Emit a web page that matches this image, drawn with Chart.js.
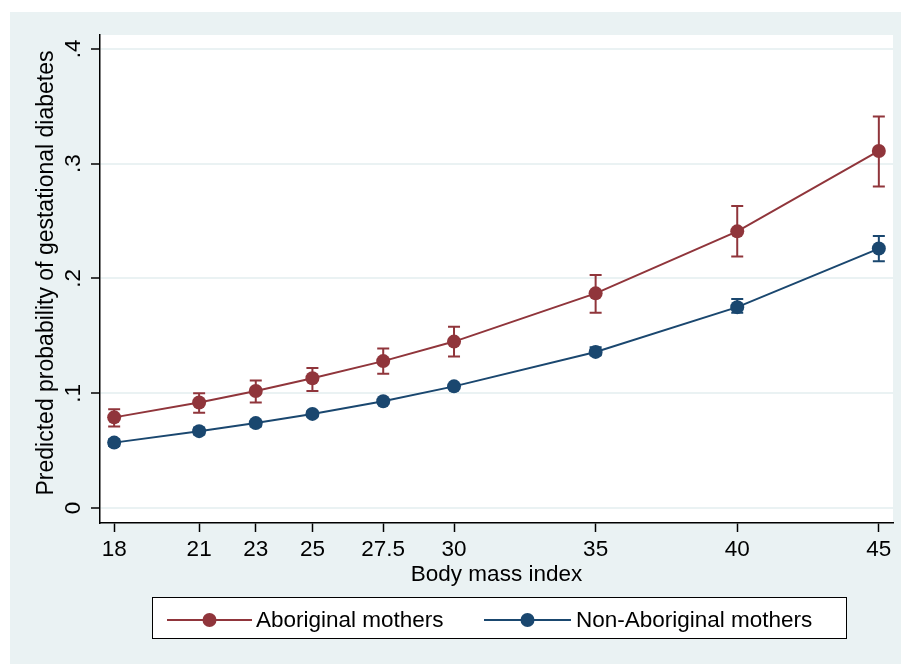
<!DOCTYPE html>
<html>
<head>
<meta charset="utf-8">
<script src="https://cdn.jsdelivr.net/npm/chart.js@4.4.1/dist/chart.umd.min.js"></script>
<style>
  html, body { margin: 0; padding: 0; background: #ffffff; }
  #wrap { width: 901px; height: 664px; position: relative; }
</style>
</head>
<body>
<div id="wrap"><canvas id="chart" width="901" height="664"></canvas></div>
<script>
// Body mass index values on the x axis
const bmi = [18, 21, 23, 25, 27.5, 30, 35, 40, 45];

// Predicted probabilities with confidence limits
const aboriginal     = [0.079, 0.092, 0.102, 0.113, 0.128, 0.145, 0.187, 0.241, 0.311];
const aboriginalLow  = [0.071, 0.083, 0.092, 0.102, 0.117, 0.132, 0.170, 0.219, 0.280];
const aboriginalHigh = [0.086, 0.100, 0.111, 0.122, 0.139, 0.158, 0.203, 0.263, 0.341];

const nonAboriginal     = [0.057, 0.067, 0.074, 0.082, 0.093, 0.106, 0.136, 0.175, 0.226];
const nonAboriginalLow  = [0.054, 0.064, 0.071, 0.080, 0.091, 0.104, 0.133, 0.170, 0.215];
const nonAboriginalHigh = [0.060, 0.070, 0.076, 0.084, 0.095, 0.108, 0.140, 0.182, 0.237];

// Tick labels
const yTicks = [0, 0.1, 0.2, 0.3, 0.4];
const yTickLabels = ['0', '.1', '.2', '.3', '.4'];
const seriesNames = ['Aboriginal mothers', 'Non-Aboriginal mothers'];

const red = '#90353B';
const navy = '#1A476F';
const bgColor = '#EAF2F3';
const fontFamily = '"Liberation Sans", Arial, sans-serif';
const fontSize = 22.5;

function toPoints(ys) {
  return bmi.map((x, i) => ({ x: x, y: ys[i] }));
}

// Background, plot region and error bars
const stataPlugin = {
  id: 'stata',
  beforeDraw(chart) {
    const ctx = chart.ctx;
    const a = chart.chartArea;
    ctx.save();
    ctx.fillStyle = bgColor;
    ctx.fillRect(10, 12, chart.width - 10, chart.height - 12);
    ctx.fillStyle = '#ffffff';
    ctx.fillRect(a.left, a.top, a.right - a.left, a.bottom - a.top);
    ctx.restore();
  },
  beforeDatasetsDraw(chart) {
    const ctx = chart.ctx;
    const xs = chart.scales.x;
    const ys = chart.scales.y;
    const bars = [
      { low: aboriginalLow, high: aboriginalHigh, color: red },
      { low: nonAboriginalLow, high: nonAboriginalHigh, color: navy }
    ];
    ctx.save();
    bars.forEach(b => {
      ctx.strokeStyle = b.color;
      ctx.lineWidth = 2;
      bmi.forEach((x, i) => {
        const px = xs.getPixelForValue(x);
        const y1 = ys.getPixelForValue(b.low[i]);
        const y2 = ys.getPixelForValue(b.high[i]);
        ctx.beginPath();
        ctx.moveTo(px, y1); ctx.lineTo(px, y2);
        ctx.moveTo(px - 6, y1); ctx.lineTo(px + 6, y1);
        ctx.moveTo(px - 6, y2); ctx.lineTo(px + 6, y2);
        ctx.stroke();
      });
    });
    ctx.restore();
  },
  afterDraw(chart) {
    const ctx = chart.ctx;
    const ys = chart.scales.y;
    const a = chart.chartArea;
    ctx.save();
    ctx.fillStyle = '#000000';
    ctx.font = fontSize + 'px ' + fontFamily;
    ctx.textAlign = 'center';
    ctx.textBaseline = 'middle';

    // rotated y tick labels
    yTicks.forEach((v, i) => {
      const py = ys.getPixelForValue(v);
      ctx.save();
      ctx.translate(74, py);
      ctx.rotate(-Math.PI / 2);
      ctx.fillText(yTickLabels[i], 0, 0);
      ctx.restore();
    });

    // axis titles
    ctx.save();
    ctx.translate(47, 273);
    ctx.rotate(-Math.PI / 2);
    ctx.font = '23px ' + fontFamily;
    ctx.fillText('Predicted probability of gestational diabetes', 0, 0);
    ctx.restore();
    ctx.fillText('Body mass index', (a.left + a.right) / 2, 575);

    // legend box
    ctx.fillStyle = '#ffffff';
    ctx.fillRect(152, 597, 695, 42);
    ctx.strokeStyle = '#000000';
    ctx.lineWidth = 1;
    ctx.strokeRect(152.5, 597.5, 694, 41);

    const items = [
      { name: seriesNames[0], color: red, x0: 167, x1: 252, text: 256 },
      { name: seriesNames[1], color: navy, x0: 484, x1: 571, text: 576 }
    ];
    items.forEach(it => {
      ctx.strokeStyle = it.color;
      ctx.lineWidth = 2;
      ctx.beginPath();
      ctx.moveTo(it.x0, 620); ctx.lineTo(it.x1, 620);
      ctx.stroke();
      ctx.fillStyle = it.color;
      ctx.beginPath();
      ctx.arc((it.x0 + it.x1) / 2, 620, 7, 0, Math.PI * 2);
      ctx.fill();
      ctx.fillStyle = '#000000';
      ctx.textAlign = 'left';
      ctx.fillText(it.name, it.text, 621);
    });
    ctx.restore();
  }
};

const ctx = document.getElementById('chart').getContext('2d');
new Chart(ctx, {
  type: 'scatter',
  data: {
    datasets: [
      {
        label: seriesNames[0],
        data: toPoints(aboriginal),
        showLine: true,
        borderColor: red,
        backgroundColor: red,
        borderWidth: 2,
        pointRadius: 7,
        pointBorderWidth: 0,
        pointHoverRadius: 7
      },
      {
        label: seriesNames[1],
        data: toPoints(nonAboriginal),
        showLine: true,
        borderColor: navy,
        backgroundColor: navy,
        borderWidth: 2,
        pointRadius: 7,
        pointBorderWidth: 0,
        pointHoverRadius: 7
      }
    ]
  },
  options: {
    responsive: false,
    animation: false,
    layout: { padding: { left: 0, top: 35, right: 8, bottom: 91 } },
    plugins: {
      legend: { display: false },
      tooltip: { enabled: false }
    },
    scales: {
      x: {
        type: 'linear',
        min: 17.5,
        max: 45.5,
        afterBuildTicks: scale => { scale.ticks = bmi.map(v => ({ value: v })); },
        afterFit: scale => { scale.height = 50; },
        grid: { drawOnChartArea: false, tickLength: 9, tickColor: '#000000', tickWidth: 1.5 },
        border: { display: true, color: '#000000', width: 1.5 },
        ticks: {
          color: '#000000',
          font: { family: fontFamily, size: fontSize },
          padding: 4,
          maxRotation: 0,
          autoSkip: false,
          callback: v => String(v)
        }
      },
      y: {
        type: 'linear',
        min: -0.013,
        max: 0.412,
        afterBuildTicks: scale => { scale.ticks = yTicks.map(v => ({ value: v })); },
        afterFit: scale => { scale.width = 100; },
        grid: { color: bgColor, lineWidth: 2, tickLength: 9, tickColor: '#000000', tickWidth: 1.5 },
        border: { display: true, color: '#000000', width: 1.5 },
        ticks: { display: false }
      }
    }
  },
  plugins: [stataPlugin]
});
</script>
</body>
</html>
